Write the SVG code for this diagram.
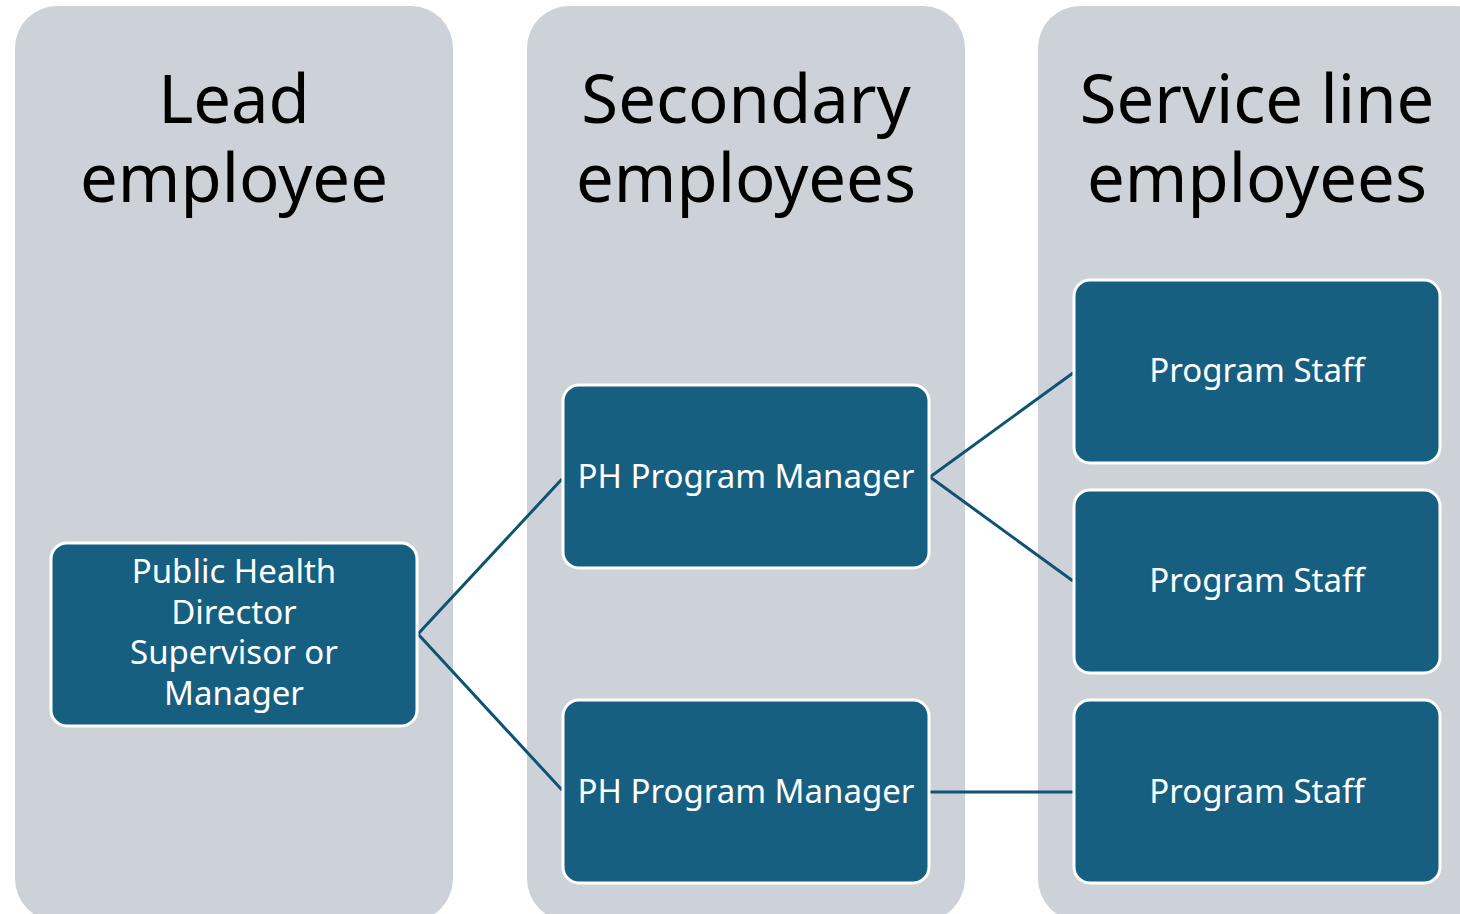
<svg xmlns="http://www.w3.org/2000/svg" width="1460" height="914" viewBox="0 0 1460 914">
<style>
.col{fill:#CDD2D9}
.node{fill:#175F81;stroke:#FFFFFF;stroke-width:3}
.hd{font-family:"Noto Sans","Liberation Sans",sans-serif;font-size:67px;fill:#000;text-anchor:middle}
.nt{font-family:"Noto Sans","Liberation Sans",sans-serif;font-size:33px;fill:#FFFFFF;text-anchor:middle}
.cn{stroke:#0E5374;stroke-width:3;fill:none}
</style>
<rect width="1460" height="914" fill="#FFFFFF"/>
<g id="col-lead">
<rect class="col" x="15" y="6" width="438" height="915" rx="42"/>
<text class="hd" x="234" y="123">Lead</text>
<text class="hd" x="234" y="202">employee</text>
</g>
<g id="col-secondary">
<rect class="col" x="527" y="6" width="438" height="915" rx="42"/>
<text class="hd" x="746" y="123">Secondary</text>
<text class="hd" x="746" y="202">employees</text>
</g>
<g id="col-service">
<rect class="col" x="1038" y="6" width="460" height="915" rx="42"/>
<text class="hd" x="1257" y="123">Service line</text>
<text class="hd" x="1257" y="202">employees</text>
</g>
<g id="connectors">
<polyline class="cn" points="562,479 418,634 562,790"/>
<polyline class="cn" points="1073,373 930,477 1073,581"/>
<line class="cn" x1="930" y1="792" x2="1073" y2="792"/>
</g>
<g id="node-director">
<rect class="node" x="51" y="543" width="366" height="183" rx="16"/>
<text class="nt" x="234" y="583">Public Health</text>
<text class="nt" x="234" y="624">Director</text>
<text class="nt" x="234" y="664">Supervisor or</text>
<text class="nt" x="234" y="705">Manager</text>
</g>
<g id="node-pm1">
<rect class="node" x="563" y="385" width="366" height="183" rx="16"/>
<text class="nt" x="746" y="488">PH Program Manager</text>
</g>
<g id="node-pm2">
<rect class="node" x="563" y="700" width="366" height="183" rx="16"/>
<text class="nt" x="746" y="803">PH Program Manager</text>
</g>
<g id="node-staff1">
<rect class="node" x="1074" y="280" width="366" height="183" rx="16"/>
<text class="nt" x="1257" y="382">Program Staff</text>
</g>
<g id="node-staff2">
<rect class="node" x="1074" y="490" width="366" height="183" rx="16"/>
<text class="nt" x="1257" y="592">Program Staff</text>
</g>
<g id="node-staff3">
<rect class="node" x="1074" y="700" width="366" height="183" rx="16"/>
<text class="nt" x="1257" y="803">Program Staff</text>
</g>
</svg>
